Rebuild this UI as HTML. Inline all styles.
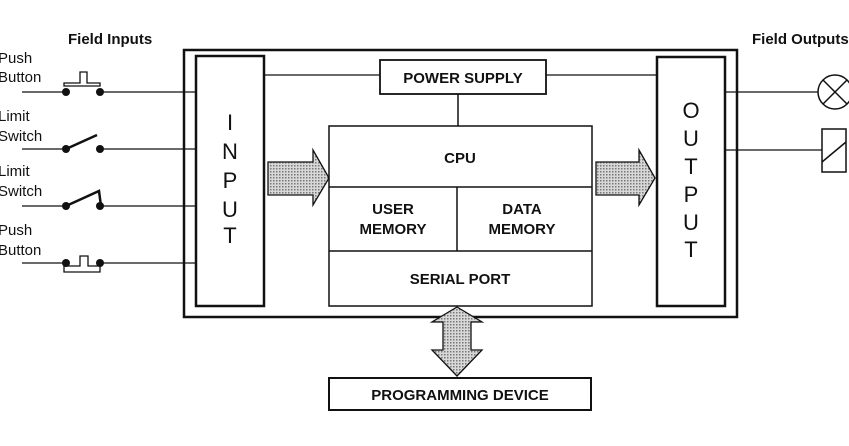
<!DOCTYPE html>
<html><head><style>
html,body{margin:0;padding:0;background:#fff;}
svg{display:block;}
text{font-family:"Liberation Sans",Arial,sans-serif;fill:#111;}
.b{font-weight:bold;font-size:15px;}
.l{font-size:15px;}
.big{font-size:22px;}
</style></head><body>
<svg width="849" height="446" viewBox="0 0 849 446" xmlns="http://www.w3.org/2000/svg">
<defs>
<pattern id="dots" width="3" height="3" patternUnits="userSpaceOnUse">
<rect width="3" height="3" fill="#d8d8d8"/><rect width="1.5" height="1.5" fill="#777"/>
</pattern>
</defs>
<g stroke="#111" fill="none">
<rect x="184" y="50" width="553" height="267" stroke-width="2.5"/>
<rect x="196" y="56" width="68" height="250" stroke-width="2.5"/>
<rect x="657" y="57" width="68" height="249" stroke-width="2.5"/>
<rect x="380" y="60" width="166" height="34" stroke-width="1.8"/>
<rect x="329" y="126" width="263" height="180" stroke-width="1.5"/>
<line x1="329" y1="187" x2="592" y2="187" stroke-width="1.5"/>
<line x1="329" y1="251" x2="592" y2="251" stroke-width="1.5"/>
<line x1="457" y1="187" x2="457" y2="251" stroke-width="1.5"/>
<rect x="329" y="378" width="262" height="32" stroke-width="2"/>
<line x1="264" y1="75" x2="380" y2="75" stroke-width="1.3"/>
<line x1="546" y1="75" x2="657" y2="75" stroke-width="1.3"/>
<line x1="458" y1="94" x2="458" y2="126" stroke-width="1.5"/>
<!-- input lines -->
<line x1="22" y1="92" x2="66" y2="92" stroke-width="1.3"/><line x1="100" y1="92" x2="196" y2="92" stroke-width="1.3"/>
<line x1="22" y1="149" x2="66" y2="149" stroke-width="1.3"/><line x1="100" y1="149" x2="196" y2="149" stroke-width="1.3"/>
<line x1="22" y1="206" x2="66" y2="206" stroke-width="1.3"/><line x1="100" y1="206" x2="196" y2="206" stroke-width="1.3"/>
<line x1="22" y1="263" x2="66" y2="263" stroke-width="1.3"/><line x1="100" y1="263" x2="196" y2="263" stroke-width="1.3"/>
<!-- switches -->
<path d="M64 83 H80 V72 H87 V83 H100 V86 H64 Z" stroke-width="1.3"/>
<line x1="66" y1="149" x2="97" y2="135" stroke-width="2.5"/>
<path d="M66 206 L99 191 L101 206" stroke-width="2.5"/>
<path d="M64 266 V272 H100 V266 H88 V256 H80 V266 Z" stroke-width="1.3"/>
<!-- outputs -->
<line x1="725" y1="92" x2="818" y2="92" stroke-width="1.3"/>
<line x1="725" y1="150" x2="822" y2="150" stroke-width="1.3"/>
<circle cx="835" cy="92" r="17" stroke-width="1.5"/>
<line x1="823" y1="80" x2="847" y2="104" stroke-width="1.5"/><line x1="847" y1="80" x2="823" y2="104" stroke-width="1.5"/>
<rect x="822" y="129" width="24" height="43" stroke-width="1.5"/>
<line x1="822" y1="162" x2="846" y2="142" stroke-width="1.5"/>
</g>
<g fill="#111">
<circle cx="66" cy="92" r="4"/><circle cx="100" cy="92" r="4"/>
<circle cx="66" cy="149" r="4"/><circle cx="100" cy="149" r="4"/>
<circle cx="66" cy="206" r="4"/><circle cx="100" cy="206" r="4"/>
<circle cx="66" cy="263" r="4"/><circle cx="100" cy="263" r="4"/>
</g>
<!-- arrows -->
<g fill="url(#dots)" stroke="#111" stroke-width="1.3">
<path d="M268 162 H313 V150 L329 178 L313 205 V195 H268 Z"/>
<path d="M596 162 H639 V150 L655 178 L639 205 V195 H596 Z"/>
<path d="M457 307 L482 322 H471 V350 H482 L457 376 L432 350 H443 V322 H432 Z"/>
</g>
<text class="b" x="68" y="44">Field Inputs</text>
<text class="b" x="752" y="44">Field Outputs</text>
<text class="l" x="-2" y="63">Push</text><text class="l" x="-2" y="82">Button</text>
<text class="l" x="-2" y="121">Limit</text><text class="l" x="-2" y="141">Switch</text>
<text class="l" x="-2" y="176">Limit</text><text class="l" x="-2" y="196">Switch</text>
<text class="l" x="-2" y="235">Push</text><text class="l" x="-2" y="255">Button</text>
<text class="b" x="463" y="83" text-anchor="middle">POWER SUPPLY</text>
<text class="b" x="460" y="163" text-anchor="middle">CPU</text>
<text class="b" x="393" y="214" text-anchor="middle">USER</text>
<text class="b" x="393" y="234" text-anchor="middle">MEMORY</text>
<text class="b" x="522" y="214" text-anchor="middle">DATA</text>
<text class="b" x="522" y="234" text-anchor="middle">MEMORY</text>
<text class="b" x="460" y="284" text-anchor="middle">SERIAL PORT</text>
<text class="b" x="460" y="400" text-anchor="middle">PROGRAMMING DEVICE</text>
<g class="big" text-anchor="middle">
<text class="big" x="230" y="130">I</text>
<text class="big" x="230" y="159">N</text>
<text class="big" x="230" y="188">P</text>
<text class="big" x="230" y="217">U</text>
<text class="big" x="230" y="243">T</text>
<text class="big" x="691" y="118">O</text>
<text class="big" x="691" y="146">U</text>
<text class="big" x="691" y="174">T</text>
<text class="big" x="691" y="202">P</text>
<text class="big" x="691" y="230">U</text>
<text class="big" x="691" y="257">T</text>
</g>
</svg>
</body></html>
